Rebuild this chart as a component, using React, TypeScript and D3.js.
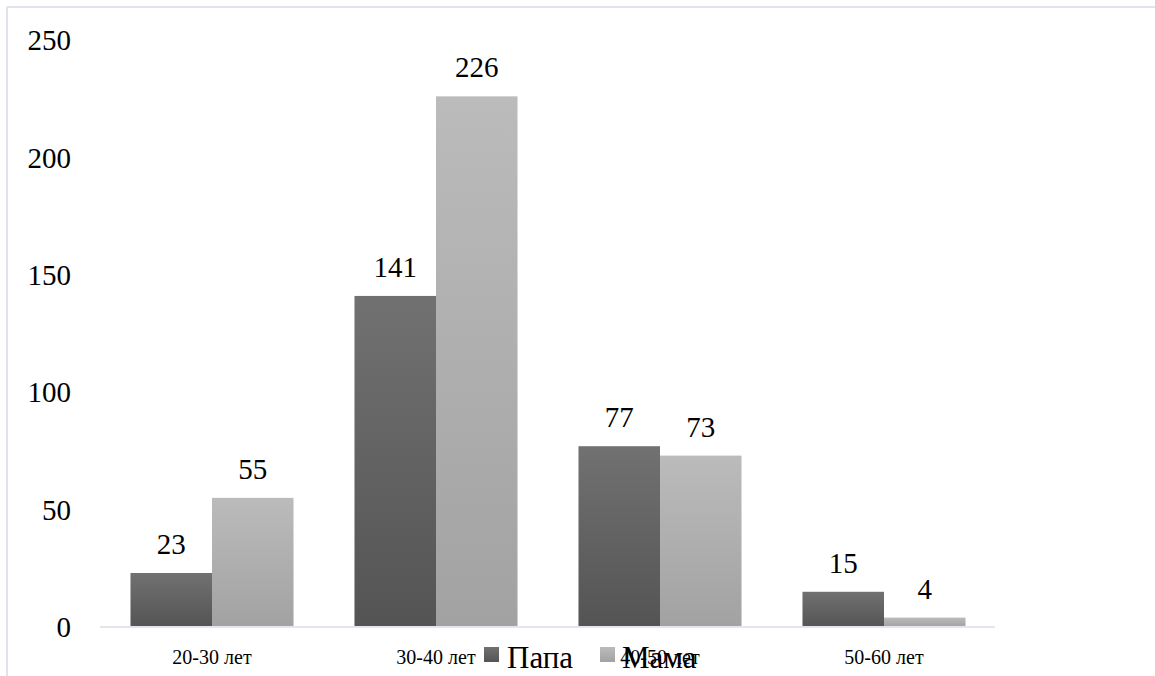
import React from "react";
import * as d3 from "d3";

const categories = ["20-30 лет", "30-40 лет", "40-50 лет", "50-60 лет"];
const series = ["Папа", "Мама"];
const papaValues = [23, 141, 77, 15];
const mamaValues = [55, 226, 73, 4];
const yTicks = [0, 50, 100, 150, 200, 250];

const W = 1155;
const H = 676;
const FONT = '"Liberation Serif", "Times New Roman", Tinos, "DejaVu Serif", serif';

export default function App() {
  const x0 = d3.scaleBand<string>().domain(categories).range([100, 996]).padding(0);
  const x1 = d3
    .scaleBand<string>()
    .domain(series)
    .range([0, x0.bandwidth()])
    .paddingInner(0)
    .paddingOuter(0.374);
  const y = d3.scaleLinear().domain([0, 250]).range([627, 40]);

  const rows = categories.map((c, i) => ({
    cat: c,
    vals: [
      { s: series[0], v: papaValues[i] },
      { s: series[1], v: mamaValues[i] },
    ],
  }));

  const fills: Record<string, string> = {
    Папа: "url(#gPapa)",
    Мама: "url(#gMama)",
  };

  const txt = { fontFamily: FONT };

  return (
    <svg
      width={W}
      height={H}
      style={{ position: "absolute", left: 0, top: 0, background: "#fff", fontFamily: FONT }}
    >
      <defs>
        <linearGradient id="gPapa" x1="0" y1="0" x2="0" y2="1">
          <stop offset="0%" stopColor="#717171" />
          <stop offset="100%" stopColor="#545454" />
        </linearGradient>
        <linearGradient id="gMama" x1="0" y1="0" x2="0" y2="1">
          <stop offset="0%" stopColor="#bbbbbb" />
          <stop offset="100%" stopColor="#a2a2a2" />
        </linearGradient>
      </defs>
      {/* outer frame */}
      <line x1={7} y1={7} x2={W} y2={7} stroke="#dfe4ec" strokeWidth={2} />
      <line x1={7} y1={7} x2={7} y2={H} stroke="#dfe4ec" strokeWidth={2} />

      {/* y tick labels */}
      {yTicks.map((t) => (
        <text
          key={t}
          x={71}
          y={y(t)}
          dy="0.35em"
          textAnchor="end"
          fontSize={29}
          fill="#000"
          style={txt}
        >
          {t}
        </text>
      ))}

      {/* bars */}
      {rows.map((r) => (
        <g key={r.cat} transform={`translate(${x0(r.cat)},0)`}>
          {r.vals.map((d) => (
            <g key={d.s}>
              <rect
                x={x1(d.s)}
                y={y(d.v)}
                width={x1.bandwidth()}
                height={y(0) - y(d.v)}
                fill={fills[d.s]}
              />
              <text
                x={(x1(d.s) as number) + x1.bandwidth() / 2}
                y={y(d.v) - 19}
                textAnchor="middle"
                fontSize={29}
                fill="#000"
                style={txt}
              >
                {d.v}
              </text>
            </g>
          ))}
        </g>
      ))}

      {/* baseline */}
      <line x1={100} y1={y(0)} x2={995} y2={y(0)} stroke="#e2e7ee" strokeWidth={2} />

      {/* category labels */}
      {categories.map((c) => (
        <text
          key={c}
          x={(x0(c) as number) + x0.bandwidth() / 2}
          y={664}
          textAnchor="middle"
          fontSize={20}
          fill="#000"
          style={txt}
        >
          {c}
        </text>
      ))}

      {/* legend */}
      <rect x={484} y={647} width={15} height={15} fill="url(#gPapa)" />
      <text x={507} y={668} fontSize={31} fill="#000" style={txt}>
        {series[0]}
      </text>
      <rect x={600} y={647} width={15} height={15} fill="url(#gMama)" />
      <text x={622} y={668} fontSize={31} fill="#000" style={txt}>
        {series[1]}
      </text>
    </svg>
  );
}
